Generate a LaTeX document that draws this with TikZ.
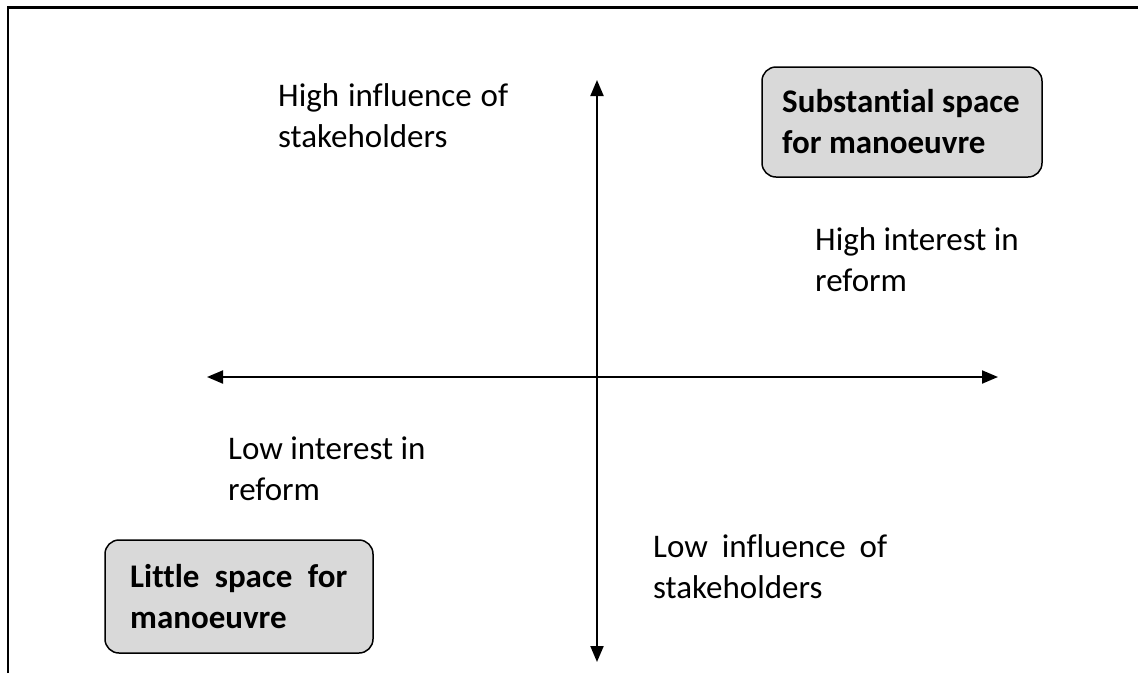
\documentclass[tikz,border=0pt]{standalone}
\usepackage{fontspec}
\setmainfont{Carlito}[RawFeature={-liga;-clig;-dlig}]
\usetikzlibrary{arrows.meta}
\definecolor{boxgray}{HTML}{D9D9D9}
\begin{document}
\begin{tikzpicture}[x=1pt,y=-1pt,
  lbl/.style={anchor=base west, inner sep=0pt, font=\fontsize{33}{41}\selectfont},
  blbl/.style={lbl, font=\fontsize{33}{41}\selectfont\bfseries},
  qbox/.style={draw, line width=1.5pt, rounded corners=14pt, fill=boxgray},
  axisline/.style={line width=2pt, {Triangle[length=16pt,width=13pt]}-{Triangle[length=16pt,width=13pt]}},
  frameline/.style={line width=2.2pt}]
\useasboundingbox (0,0) rectangle (1138,673);
% frame
\coordinate (fbl) at (8,673);
\coordinate (ftl) at (8,7.5);
\coordinate (ftr) at (1138,7.5);
\draw[frameline] (fbl) -- (ftl) -- (ftr);
% axes
\coordinate (vtop) at (597,80);
\coordinate (vbot) at (597,662);
\coordinate (hleft) at (207,377);
\coordinate (hright) at (998,377);
\draw[axisline] (vbot) -- (vtop);
\draw[axisline] (hleft) -- (hright);
% boxes
\draw[qbox] (762,67) rectangle (1042,177);
\draw[qbox] (105,540) rectangle (373,653);
\node[blbl] (s1) at (782,112) {Substantial space};
\node[blbl] (s2) at (782,153) {for manoeuvre};
\node[blbl] (l1) at (130,587) {\makebox[217pt][s]{Little space for}};
\node[blbl] (l2) at (130,628) {manoeuvre};
% labels
\node[lbl] (hi1) at (278,106) {\makebox[230pt][s]{High influence of}};
\node[lbl] (hi2) at (278,147) {stakeholders};
\node[lbl] (hr1) at (815,250) {High interest in};
\node[lbl] (hr2) at (815,291) {reform};
\node[lbl] (lr1) at (228,459) {Low interest in};
\node[lbl] (lr2) at (228,500) {reform};
\node[lbl] (li1) at (653,557) {\makebox[234pt][s]{Low influence of}};
\node[lbl] (li2) at (653,598) {stakeholders};
\end{tikzpicture}
\end{document}
